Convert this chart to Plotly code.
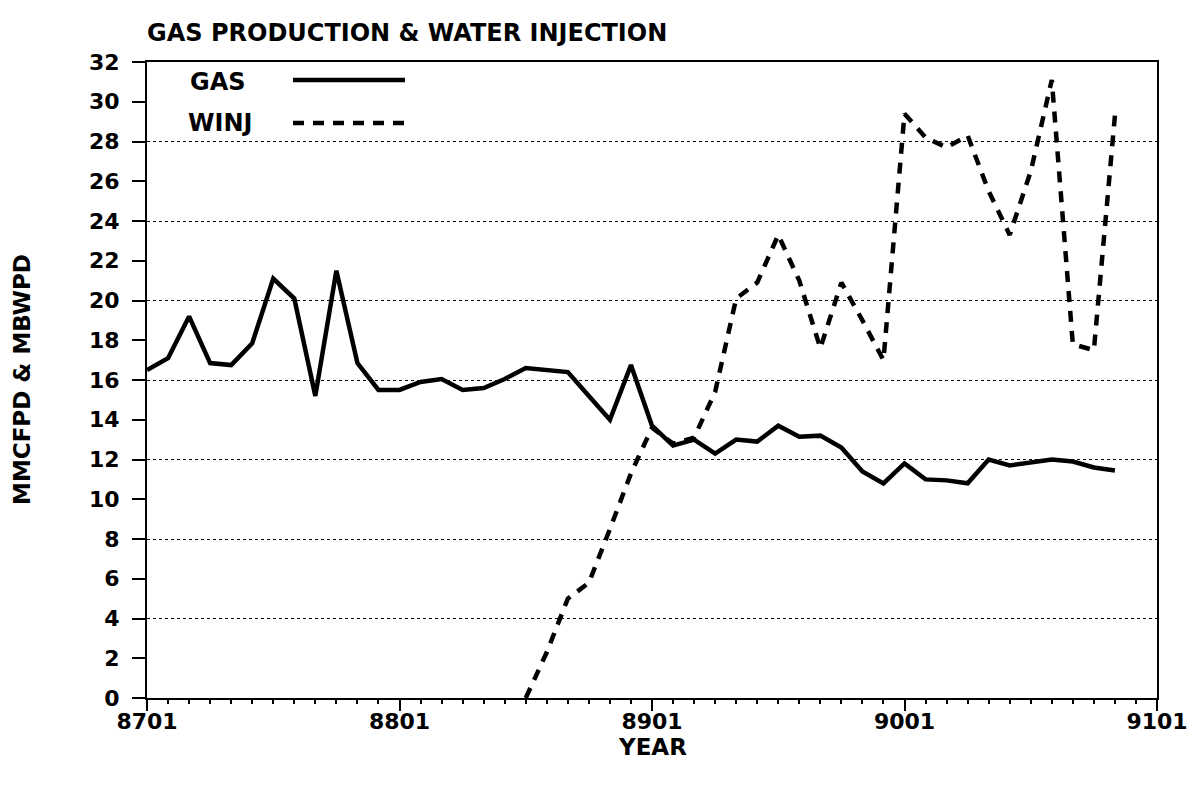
import plotly.graph_objects as go

# months since Jan 1987 (8701)
gas_month = list(range(0, 47))
gas_values = [16.5, 17.1, 19.2, 16.85, 16.75, 17.85, 21.1, 20.1, 15.2, 21.5,
              16.85, 15.5, 15.5, 15.9, 16.05, 15.5, 15.6, 16.05, 16.6, 16.5,
              16.4, 15.2, 14.0, 16.75, 13.7, 12.7, 13.0, 12.3, 13.0, 12.9,
              13.7, 13.15, 13.2, 12.6, 11.4, 10.8, 11.8, 11.0, 10.95, 10.8,
              12.0, 11.7, 11.85, 12.0, 11.9, 11.6, 11.45]

winj_month = list(range(18, 47))
winj_values = [0.0, 2.3, 5.0, 5.8, 8.5, 11.3, 13.6, 12.8, 13.1, 15.4,
               20.1, 20.9, 23.3, 21.0, 17.6, 20.9, 19.0, 17.0, 29.4, 28.2,
               27.7, 28.3, 25.5, 23.3, 26.5, 31.1, 17.8, 17.5, 29.3]

tick_pos = [0, 12, 24, 36, 48]
tick_text = ["8701", "8801", "8901", "9001", "9101"]

FONT = "DejaVu Sans"
OFF = 8  # page body margin
fig = go.Figure()
fig.add_trace(go.Scatter(x=gas_month, y=gas_values, mode="lines", name="GAS",
                         line=dict(color="black", width=4.5)))
fig.add_trace(go.Scatter(x=winj_month, y=winj_values, mode="lines", name="WINJ",
                         line=dict(color="black", width=4.5, dash="11px,9px")))
# invisible trace to carry the dotted grid axis and the monthly ticks
fig.add_trace(go.Scatter(x=[0], y=[0], xaxis="x2", yaxis="y2", mode="markers",
                         marker=dict(opacity=0), showlegend=False, hoverinfo="skip"))

H_FIG = 788 - 2 * OFF
fig.update_layout(
    width=1195 - 2 * OFF, height=H_FIG,
    margin=dict(l=147 - OFF, r=38 - OFF, t=62 - OFF, b=90 - OFF),
    paper_bgcolor="white", plot_bgcolor="white",
    showlegend=False,
    font=dict(family=FONT, color="black", size=22),
    title=dict(text="GAS PRODUCTION &amp; WATER INJECTION",
               x=(147 - OFF) / (1195 - 2 * OFF), xanchor="left",
               y=1 - (33 - OFF) / H_FIG, yanchor="middle",
               font=dict(family=FONT, size=24, color="black", weight="bold")),
    xaxis=dict(range=[0, 48], tickmode="array", tickvals=tick_pos, ticktext=tick_text,
               ticks="outside", ticklen=11, tickwidth=2, tickcolor="black",
               ticklabelstandoff=-8, ticklabeloverflow="allow", automargin=False,
               showline=True, linewidth=2, linecolor="black", mirror=True,
               showgrid=False, zeroline=False,
               tickfont=dict(family=FONT, size=22, weight="bold")),
    xaxis2=dict(range=[0, 48], tickmode="linear", tick0=0, dtick=1, overlaying="x",
                side="bottom", anchor="y", ticks="outside", ticklen=5, tickwidth=1.5,
                tickcolor="black", showticklabels=False, showgrid=False,
                zeroline=False, showline=False, automargin=False),
    yaxis=dict(range=[0, 32], tickmode="linear", dtick=2, tick0=0,
               ticks="outside", ticklen=13, tickwidth=2, tickcolor="black",
               ticklabelstandoff=8, automargin=False,
               showline=True, linewidth=2, linecolor="black", mirror=True,
               showgrid=False, zeroline=False,
               tickfont=dict(family=FONT, size=22, weight="bold")),
    yaxis2=dict(range=[0, 32], dtick=4, tick0=0, overlaying="y", side="right",
                showticklabels=False, ticks="", showgrid=True,
                gridcolor="black", gridwidth=1, griddash="dot",
                zeroline=False, showline=False, automargin=False),
)

W, H = 1010, 636
def px(x):
    return (x - 147) / W
def py(y):
    return (698 - y) / H

fig.add_annotation(text="MMCFPD &amp; MBWPD", textangle=-90, xref="paper", yref="paper",
                   x=px(22), y=0.5, xanchor="center", yanchor="middle", showarrow=False,
                   font=dict(family=FONT, size=23, weight="bold"))
fig.add_annotation(text="YEAR", xref="paper", yref="paper",
                   x=px(652), y=py(747), xanchor="center", yanchor="middle", showarrow=False,
                   font=dict(family=FONT, size=23, weight="bold"))
# legend
fig.add_annotation(text="GAS", xref="paper", yref="paper", x=px(188), y=py(82),
                   xanchor="left", yanchor="middle", showarrow=False,
                   font=dict(family=FONT, size=24, weight="bold"))
fig.add_annotation(text="WINJ", xref="paper", yref="paper", x=px(186), y=py(123),
                   xanchor="left", yanchor="middle", showarrow=False,
                   font=dict(family=FONT, size=24, weight="bold"))
fig.add_shape(type="line", xref="paper", yref="paper", x0=px(293), x1=px(405), y0=py(80), y1=py(80),
              line=dict(color="black", width=4.5))
fig.add_shape(type="line", xref="paper", yref="paper", x0=px(293), x1=px(410), y0=py(123), y1=py(123),
              line=dict(color="black", width=4.5, dash="11px,9px"))

fig.write_html("out.html")
